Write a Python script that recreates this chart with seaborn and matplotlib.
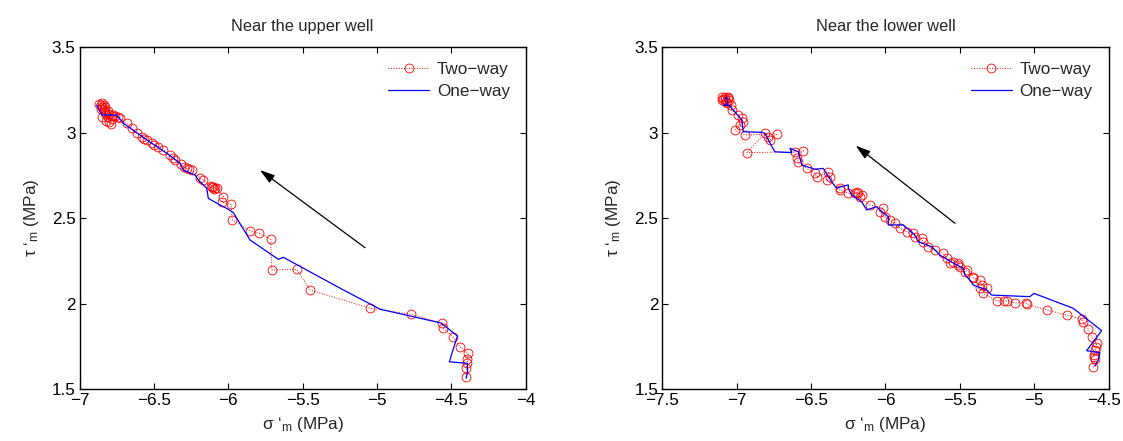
import numpy as np
import pandas as pd
import matplotlib
matplotlib.use("Agg")
import matplotlib.pyplot as plt
import matplotlib.transforms as mtransforms
import seaborn as sns

# ---------------- data ----------------
# Near the upper well: two-way coupled path (sigma'_m, tau'_m) in MPa
upper_two_x = [-4.400, -4.400, -4.392, -4.392, -4.385, -4.441, -4.490, -4.553, -4.564, -4.771,
               -5.050, -5.450, -5.540, -5.708, -5.715, -5.793, -5.854, -5.973, -5.982, -6.044,
               -6.034, -6.078, -6.090, -6.101, -6.112, -6.095, -6.120, -6.168, -6.190, -6.246,
               -6.262, -6.280, -6.300, -6.320, -6.359, -6.375, -6.392, -6.437, -6.471, -6.500,
               -6.515, -6.549, -6.565, -6.583, -6.616, -6.650, -6.684, -6.729, -6.774, -6.760,
               -6.740, -6.790, -6.800, -6.785, -6.810, -6.820, -6.830, -6.840, -6.850, -6.860,
               -6.870, -6.850, -6.840, -6.830, -6.810, -6.800, -6.780, -6.820, -6.850, -6.860]
upper_two_y = [1.570, 1.623, 1.652, 1.677, 1.711, 1.749, 1.808, 1.857, 1.886, 1.939,
               1.975, 2.081, 2.202, 2.198, 2.379, 2.412, 2.428, 2.490, 2.582, 2.594,
               2.626, 2.675, 2.680, 2.685, 2.685, 2.672, 2.690, 2.724, 2.734, 2.782,
               2.790, 2.792, 2.800, 2.815, 2.841, 2.855, 2.870, 2.899, 2.919, 2.930,
               2.939, 2.958, 2.965, 2.977, 2.997, 3.026, 3.056, 3.085, 3.104, 3.100,
               3.095, 3.050, 3.065, 3.080, 3.090, 3.110, 3.120, 3.140, 3.150, 3.160,
               3.170, 3.175, 3.165, 3.150, 3.130, 3.110, 3.100, 3.070, 3.090, 3.140]

# Near the upper well: one-way coupled path
upper_one_x = [-4.400, -4.390, -4.392, -4.513, -4.459, -4.569, -4.977, -5.226, -5.630, -5.663,
               -5.854, -5.966, -6.011, -6.056, -6.135, -6.145, -6.202, -6.224, -6.303, -6.325,
               -6.414, -6.515, -6.594, -6.707, -6.751, -6.852, -6.886]
upper_one_y = [1.565, 1.600, 1.652, 1.661, 1.812, 1.888, 1.968, 2.081, 2.272, 2.260,
               2.373, 2.533, 2.558, 2.578, 2.617, 2.675, 2.724, 2.753, 2.782, 2.822,
               2.880, 2.939, 2.987, 3.056, 3.104, 3.104, 3.162]

# Near the lower well: two-way coupled path
lower_two_x = [-4.603, -4.592, -4.599, -4.595, -4.592, -4.585, -4.581, -4.614, -4.637, -4.671,
               -4.681, -4.782, -4.917, -5.051, -5.055, -5.130, -5.186, -5.200, -5.253, -5.343,
               -5.320, -5.365, -5.353, -5.365, -5.410, -5.410, -5.454, -5.466, -5.499, -5.511,
               -5.511, -5.544, -5.567, -5.589, -5.612, -5.667, -5.712, -5.746, -5.757, -5.802,
               -5.813, -5.858, -5.903, -5.936, -5.970, -6.003, -6.037, -6.015, -6.104, -6.171,
               -6.160, -6.194, -6.205, -6.183, -6.250, -6.306, -6.306, -6.396, -6.373, -6.384,
               -6.463, -6.474, -6.530, -6.586, -6.597, -6.552, -6.608, -6.933, -6.810, -6.788,
               -6.776, -6.731, -6.944, -7.011, -6.978, -6.956, -6.966, -6.989, -7.034, -7.067,
               -7.056, -7.101, -7.090, -7.080, -7.060, -7.050, -7.070, -7.040, -7.100, -7.080]
lower_two_y = [1.629, 1.675, 1.691, 1.700, 1.730, 1.746, 1.769, 1.804, 1.853, 1.895,
               1.909, 1.935, 1.964, 1.997, 2.005, 2.006, 2.018, 2.015, 2.018, 2.061,
               2.091, 2.091, 2.110, 2.139, 2.149, 2.158, 2.198, 2.188, 2.217, 2.227,
               2.237, 2.246, 2.237, 2.266, 2.295, 2.315, 2.334, 2.363, 2.383, 2.392,
               2.412, 2.422, 2.442, 2.471, 2.490, 2.509, 2.539, 2.558, 2.578, 2.626,
               2.636, 2.656, 2.646, 2.648, 2.646, 2.666, 2.675, 2.724, 2.743, 2.772,
               2.743, 2.763, 2.792, 2.831, 2.851, 2.895, 2.889, 2.884, 2.997, 2.977,
               2.958, 2.993, 2.987, 3.016, 3.046, 3.065, 3.085, 3.104, 3.133, 3.172,
               3.202, 3.211, 3.200, 3.210, 3.210, 3.190, 3.180, 3.160, 3.190, 3.200]

# Near the lower well: one-way coupled path
lower_one_x = [-4.592, -4.570, -4.558, -4.648, -4.547, -4.738, -5.002, -5.029, -5.286, -5.320,
               -5.410, -5.432, -5.466, -5.477, -5.522, -5.578, -5.634, -5.690, -5.780, -5.802,
               -5.880, -5.981, -5.981, -6.037, -6.059, -6.126, -6.160, -6.227, -6.250, -6.250,
               -6.284, -6.328, -6.362, -6.418, -6.474, -6.563, -6.586, -6.642, -6.630, -6.743,
               -6.776, -6.810, -6.832, -6.956, -6.966, -7.020, -7.050, -7.090, -7.060, -7.070,
               -7.080]
lower_one_y = [1.636, 1.671, 1.714, 1.726, 1.843, 1.974, 2.061, 2.042, 2.051, 2.081,
               2.110, 2.139, 2.168, 2.208, 2.227, 2.256, 2.285, 2.334, 2.363, 2.402,
               2.461, 2.461, 2.509, 2.549, 2.568, 2.549, 2.597, 2.636, 2.675, 2.695,
               2.689, 2.675, 2.714, 2.792, 2.787, 2.812, 2.889, 2.909, 2.884, 2.889,
               2.939, 2.997, 3.003, 3.006, 3.075, 3.130, 3.160, 3.160, 3.170, 3.210,
               3.200]

# arrow showing the direction of the stress path (tail -> head)
upper_arrow = [(-5.080, 2.328), (-5.787, 2.782)]
lower_arrow = [(-5.533, 2.471), (-6.200, 2.925)]

titles = ["Near the upper well", "Near the lower well"]
upper_xticks = [-7, -6.5, -6, -5.5, -5, -4.5, -4]
lower_xticks = [-7.5, -7, -6.5, -6, -5.5, -5, -4.5]
yticks = [1.5, 2, 2.5, 3, 3.5]
series_names = ["Two\u2212way", "One\u2212way"]

# ---------------- style ----------------
sns.set_style("ticks")
plt.rcParams["font.family"] = ["Liberation Sans", "DejaVu Sans"]
plt.rcParams["mathtext.fontset"] = "custom"
plt.rcParams["mathtext.rm"] = "Liberation Sans"
plt.rcParams["mathtext.it"] = "Liberation Sans"
plt.rcParams["axes.unicode_minus"] = True

FS = 12.3
FS_TITLE = 11.8

fig = plt.figure(figsize=(11.23, 4.41), dpi=100)
ax_l = fig.add_axes([0.0710, 0.1172, 0.3970, 0.7755])
ax_r = fig.add_axes([0.5898, 0.1172, 0.3974, 0.7755])


def fmt(v):
    s = ("%g" % v)
    return s.replace("-", "\u2212")


def draw(ax, two_x, two_y, one_x, one_y, arrow, title, xticks):
    two = pd.DataFrame({"x": two_x, "y": two_y})
    one = pd.DataFrame({"x": one_x, "y": one_y})
    sns.lineplot(data=two, x="x", y="y", ax=ax, sort=False, estimator=None,
                 color="red", linestyle=":", linewidth=0.7, marker="o",
                 markersize=6.4, markerfacecolor="none", markeredgecolor="red",
                 markeredgewidth=0.6, label=series_names[0])
    sns.lineplot(data=one, x="x", y="y", ax=ax, sort=False, estimator=None,
                 color="blue", linewidth=0.9, label=series_names[1])
    ax.annotate("", xy=arrow[1], xytext=arrow[0],
                arrowprops=dict(arrowstyle="-|>,head_length=0.9,head_width=0.28",
                                color="black", lw=0.9, shrinkA=0, shrinkB=0))
    ax.set_xlim(xticks[0], xticks[-1])
    ax.set_ylim(1.5, 3.5)
    ax.set_xticks(xticks)
    ax.set_xticklabels([fmt(t) for t in xticks], fontsize=FS)
    ax.set_yticks(yticks)
    ax.set_yticklabels([fmt(t) for t in yticks], fontsize=FS)
    ax.tick_params(direction="in", length=4, width=0.8, top=True, right=True,
                   pad=3, colors="black")
    for sp in ax.spines.values():
        sp.set_visible(True)
        sp.set_color("black")
        sp.set_linewidth(1.0)
    ax.set_title(title, fontsize=FS_TITLE, pad=12)
    ax.set_xlabel("\u03c3 \u2018$_{\\rm m}$ (MPa)", fontsize=FS, labelpad=5)
    ax.set_ylabel("\u03c4 \u2018$_{\\rm m}$ (MPa)", fontsize=FS, labelpad=8)
    ax.legend(loc="upper left", bbox_to_anchor=(0.6916, 0.958), frameon=False,
              fontsize=FS, handlelength=2.4, handletextpad=0.45, labelspacing=0.45,
              borderpad=0, borderaxespad=0)


draw(ax_l, upper_two_x, upper_two_y, upper_one_x, upper_one_y, upper_arrow,
     titles[0], upper_xticks)
draw(ax_r, lower_two_x, lower_two_y, lower_one_x, lower_one_y, lower_arrow,
     titles[1], lower_xticks)

# keep the last tick label of the right panel inside the figure
last = ax_r.get_xticklabels()[-1]
last.set_transform(last.get_transform() +
                   mtransforms.ScaledTranslation(-5 / 100, 0, fig.dpi_scale_trans))

fig.savefig("out.png", dpi=100)
